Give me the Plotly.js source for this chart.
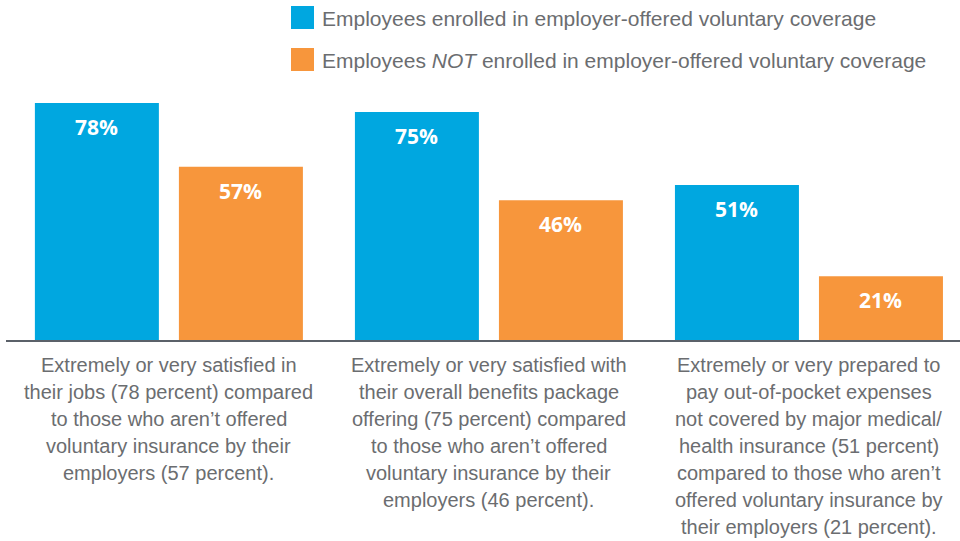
<!DOCTYPE html>
<html>
<head>
<meta charset="utf-8">
<script src="https://cdn.plot.ly/plotly-3.0.1.min.js"></script>
<style>html,body{margin:0;padding:0;background:#fff;}#chart{width:960px;height:541px;}</style>
</head>
<body>
<div id="chart"></div>
<script>
// ---- data ----
var categories = [0, 1, 2];
var categoryLabels = [
  ["Extremely or very satisfied in", "their jobs (78 percent) compared", "to those who aren\u2019t offered", "voluntary insurance by their", "employers (57 percent)."],
  ["Extremely or very satisfied with", "their overall benefits package", "offering (75 percent) compared", "to those who aren\u2019t offered", "voluntary insurance by their", "employers (46 percent)."],
  ["Extremely or very prepared to", "pay out-of-pocket expenses", "not covered by major medical/", "health insurance (51 percent)", "compared to those who aren\u2019t", "offered voluntary insurance by", "their employers (21 percent)."]
];
var enrolledName = "Employees enrolled in employer-offered voluntary coverage";
var notEnrolledName = "Employees <i>NOT</i> enrolled in employer-offered voluntary coverage";
var enrolled = [78, 75, 51];
var notEnrolled = [57, 46, 21];

// ---- style ----
var BLUE = "#00a7e0", ORANGE = "#f7963c", GRAY = "#6b6d70";
var W = 960, H = 541, PLOT_H = 340;
function py(p) { return (PLOT_H - p) / PLOT_H; } // pixel y -> paper y
function px(p) { return p / W; }

var traces = [
  {type: "bar", x: categories, y: enrolled, name: enrolledName, marker: {color: BLUE}, hoverinfo: "skip", showlegend: false},
  {type: "bar", x: categories, y: notEnrolled, name: notEnrolledName, marker: {color: ORANGE}, hoverinfo: "skip", showlegend: false}
];

var annotations = [];
var shapes = [];
// value labels
[[enrolled, -72], [notEnrolled, 72]].forEach(function (pair) {
  pair[0].forEach(function (v, i) {
    annotations.push({x: categories[i], y: v, xref: "x", yref: "y", xshift: pair[1], yshift: -8,
      yanchor: "top", showarrow: false, text: "<b>" + v + "%</b>",
      font: {family: "Open Sans, Liberation Sans, sans-serif", size: 21, color: "#ffffff"}});
  });
});
// category labels
categoryLabels.forEach(function (lines, i) {
  lines.forEach(function (line, j) {
    annotations.push({x: categories[i], xref: "x", y: py(365 + 27 * j), yref: "paper", yanchor: "middle",
      showarrow: false, text: line, font: {family: "Liberation Sans, Arial, sans-serif", size: 20, color: GRAY}});
  });
});
// legend
[[enrolledName, BLUE, 6], [notEnrolledName, ORANGE, 48]].forEach(function (it) {
  shapes.push({type: "rect", xref: "paper", yref: "paper", x0: px(291), x1: px(314), y0: py(it[2]), y1: py(it[2] + 23),
    fillcolor: it[1], line: {width: 0}});
  annotations.push({x: px(320), xref: "paper", xanchor: "left", y: py(it[2] + 12), yref: "paper", yanchor: "middle",
    showarrow: false, text: it[0], font: {family: "Liberation Sans, Arial, sans-serif", size: 21, color: GRAY}});
});

var layout = {
  width: W, height: H,
  margin: {l: 0, r: 0, t: 0, b: H - PLOT_H, pad: 0},
  paper_bgcolor: "#ffffff", plot_bgcolor: "#ffffff",
  barmode: "group", bargap: 0.1, bargroupgap: 0.139,
  xaxis: {domain: [6 / W, 1], range: [-0.509, 2.472], showline: true, linecolor: "#5b6169", linewidth: 1.5,
    showticklabels: false, ticks: "", showgrid: false, zeroline: false, fixedrange: true},
  yaxis: {range: [0, 111.9], visible: false, showgrid: false, zeroline: false, fixedrange: true},
  showlegend: false,
  annotations: annotations,
  shapes: shapes
};

Plotly.newPlot("chart", traces, layout, {displayModeBar: false, staticPlot: true});
</script>
</body>
</html>
